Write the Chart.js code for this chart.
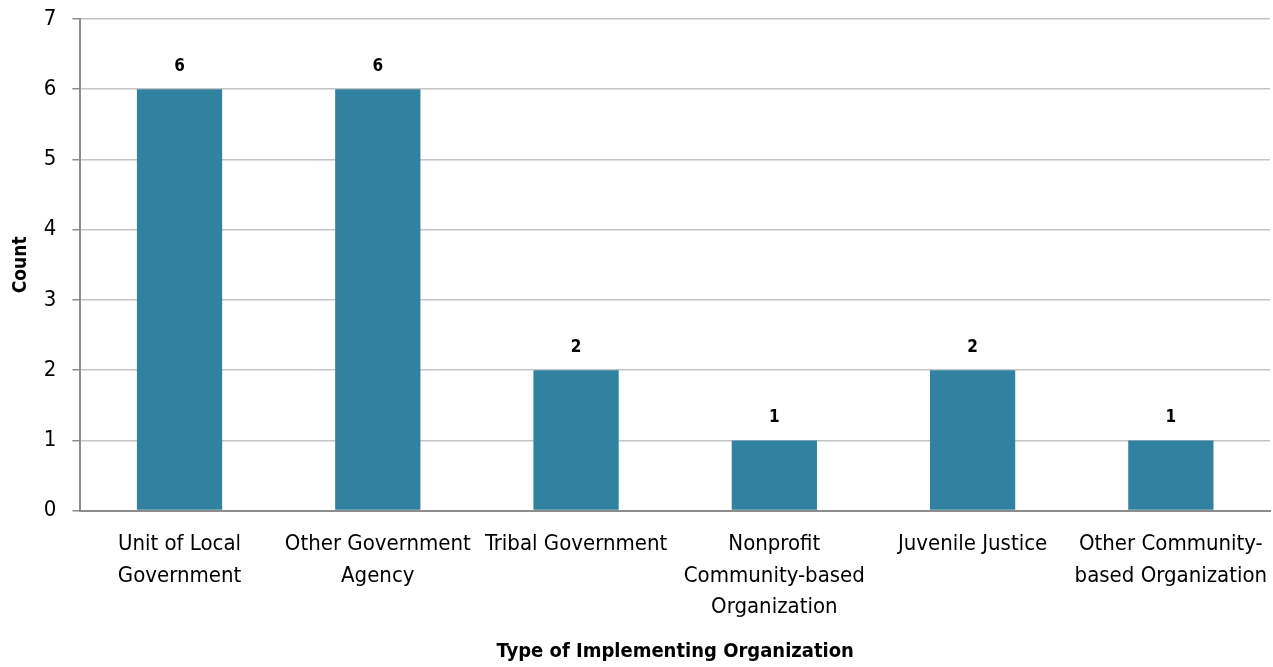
<!DOCTYPE html>
<html>
<head>
<meta charset="utf-8">
<script src="https://cdn.jsdelivr.net/npm/chart.js@4"></script>
<style>
  html, body { margin: 0; padding: 0; background: #fff; }
  #wrap { width: 1273px; height: 667px; position: relative; }
</style>
</head>
<body>
<div id="wrap"><canvas id="chartOrgType"></canvas></div>
<script>
  'use strict';

  // organization types and counts
  var categories = [
    ['Unit of Local', 'Government'],
    ['Other Government', 'Agency'],
    ['Tribal Government'],
    ['Nonprofit', 'Community-based', 'Organization'],
    ['Juvenile Justice'],
    ['Other Community-', 'based Organization']
  ];
  var counts = [6, 6, 2, 1, 2, 1];
  var yTicks = [0, 1, 2, 3, 4, 5, 6, 7];

  var fontFamily = '"Liberation Sans Narrow", "Arial Narrow", "DejaVu Sans Condensed", sans-serif';
  var barColor = '#3182a1';

  // value labels above each bar
  var valueLabels = {
    id: 'valueLabels',
    afterDatasetsDraw: function (chart) {
      var ctx = chart.ctx;
      var meta = chart.getDatasetMeta(0);
      ctx.save();
      ctx.font = 'bold 17px ' + fontFamily;
      ctx.fillStyle = '#000';
      ctx.textAlign = 'center';
      ctx.textBaseline = 'bottom';
      meta.data.forEach(function (bar, i) {
        ctx.fillText(String(counts[i]), bar.x, bar.y - 14);
      });
      ctx.restore();
    }
  };

  var ctx = document.getElementById('chartOrgType').getContext('2d');
  new Chart(ctx, {
    type: 'bar',
    data: {
      labels: categories,
      datasets: [{
        label: 'Count',
        data: counts,
        backgroundColor: barColor,
        borderWidth: 0,
        barPercentage: 0.86,
        categoryPercentage: 0.5
      }]
    },
    options: {
      responsive: true,
      maintainAspectRatio: false,
      animation: false,
      layout: { padding: { top: 0, right: 3, left: 10, bottom: 3 } },
      plugins: {
        legend: { display: false },
        tooltip: { enabled: false }
      },
      scales: {
        x: {
          afterFit: function (axis) {
            axis.paddingRight = 3;
          },
          grid: { display: false },
          border: { display: true, color: '#8c8c8c', width: 2 },
          ticks: {
            color: '#000',
            font: { family: fontFamily, size: 22, lineHeight: 1.43 },
            maxRotation: 0,
            autoSkip: false,
            padding: 10
          },
          title: {
            display: true,
            text: 'Type of Implementing Organization',
            color: '#000',
            font: { family: fontFamily, size: 20, weight: 'bold' },
            padding: { top: 7, bottom: 0 }
          }
        },
        y: {
          min: 0,
          max: 7,
          afterBuildTicks: function (axis) {
            axis.ticks = yTicks.map(function (v) { return { value: v }; });
          },
          afterFit: function (axis) {
            // keep the top gridline close to the canvas edge
            axis.paddingTop = 19;
          },
          grid: {
            color: '#c4c4c4',
            lineWidth: 1.5,
            tickLength: 8,
            tickColor: '#8c8c8c'
          },
          border: { display: true, color: '#8c8c8c', width: 2 },
          ticks: {
            color: '#000',
            font: { family: fontFamily, size: 22 },
            padding: 16
          },
          title: {
            display: true,
            text: 'Count',
            color: '#000',
            font: { family: fontFamily, size: 19, weight: 'bold' },
            padding: { top: 0, bottom: -5 }
          }
        }
      }
    },
    plugins: [valueLabels]
  });
</script>
</body>
</html>
